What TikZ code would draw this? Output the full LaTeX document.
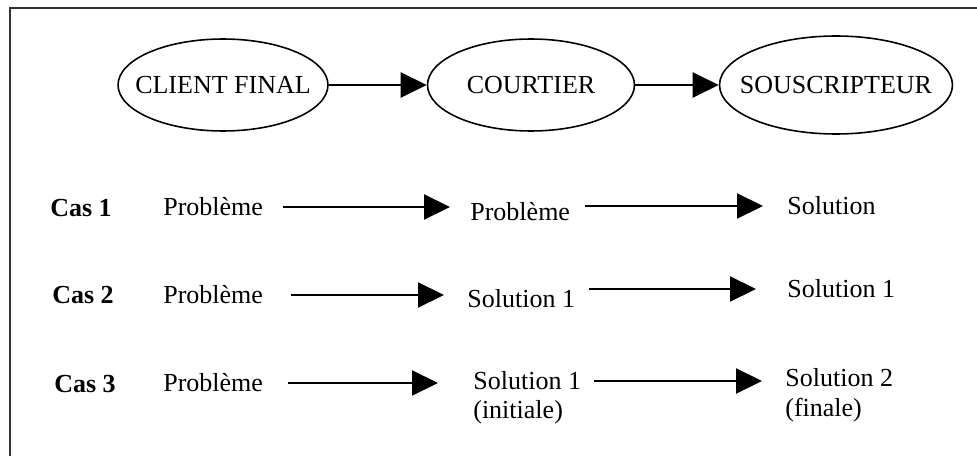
\documentclass[tikz,border=0pt]{standalone}
\usepackage{fontspec}
\setmainfont{Liberation Serif}
\usetikzlibrary{arrows.meta,shapes.geometric}

\newcommand{\taille}{\fontsize{14.8}{17}\selectfont}
\newcommand{\etiq}[1]{\makebox[0pt]{#1}}

\begin{document}
\begin{tikzpicture}[
    x=0.02cm, y=-0.02cm,
    ovale/.style={
      ellipse,
      draw,
      line width=0.9pt,
      inner sep=0pt,
      minimum height=1.84cm,
      font=\taille},
    texte/.style={anchor=west, inner sep=0pt, font=\taille},
    cas/.style={texte, font=\taille\bfseries},
    fleche/.style={-{Triangle[length=0.52cm,width=0.5cm]}, line width=1.2pt},
    cadre/.style={draw=black!80, line width=1.4pt}
    ]

  \useasboundingbox (0,0) rectangle (977,456);
  \draw[cadre] (10,460) -- (10,8) -- (980,8);

  \node at (223,85) (client) [ovale, minimum width=4.2cm] {\etiq{CLIENT FINAL}};
  \node at (531,85) (courtier) [ovale, minimum width=4.14cm] {\etiq{COURTIER}};
  \node at (836,85) (souscripteur) [ovale, minimum width=4.66cm, minimum height=1.96cm] {\etiq{SOUSCRIPTEUR}};

  \draw[fleche] (client) -- (courtier);
  \draw[fleche] (courtier) -- (souscripteur);

  % cas 1
  \node[cas] at (50,208) (cas1) {Cas 1};
  \node[texte] at (163,207) (pb1) {Problème};
  \node[texte] at (470,212) (mil1) {Problème};
  \node[texte] at (787,206) (fin1) {Solution};

  % cas 2
  \node[cas] at (52,295) (cas2) {Cas 2};
  \node[texte] at (163,295) (pb2) {Problème};
  \node[texte] at (467,299) (mil2) {Solution 1};
  \node[texte] at (787,289) (fin2) {Solution 1};

  % cas 3
  \node[cas] at (54,384) (cas3) {Cas 3};
  \node[texte] at (163,383) (pb3) {Problème};
  \node[texte] at (473,381) (mil3) {Solution 1};
  \node[texte] at (473,412) (mil3b) {(initiale)};
  \node[texte] at (785,378) (fin3) {Solution 2};
  \node[texte] at (785,410) (fin3b) {(finale)};

  \draw[fleche, shorten <=0.4cm, shorten >=0.4cm] (pb1.east) -- (pb1.east -| mil1.west);
  \draw[fleche, shorten <=0.3cm, shorten >=0.48cm] (fin1.west -| mil1.east) -- (fin1.west);

  \draw[fleche, shorten <=0.56cm, shorten >=0.46cm] (pb2.east) -- (pb2.east -| mil2.west);
  \draw[fleche, shorten <=0.28cm, shorten >=0.62cm] (fin2.west -| mil2.east) -- (fin2.west);

  \draw[fleche, shorten <=0.5cm, shorten >=0.7cm] (pb3.east) -- (pb3.east -| mil3.west);
  \draw[fleche, shorten <=0.26cm, shorten >=0.46cm] (mil3.east) -- (mil3.east -| fin3.west);

\end{tikzpicture}
\end{document}
